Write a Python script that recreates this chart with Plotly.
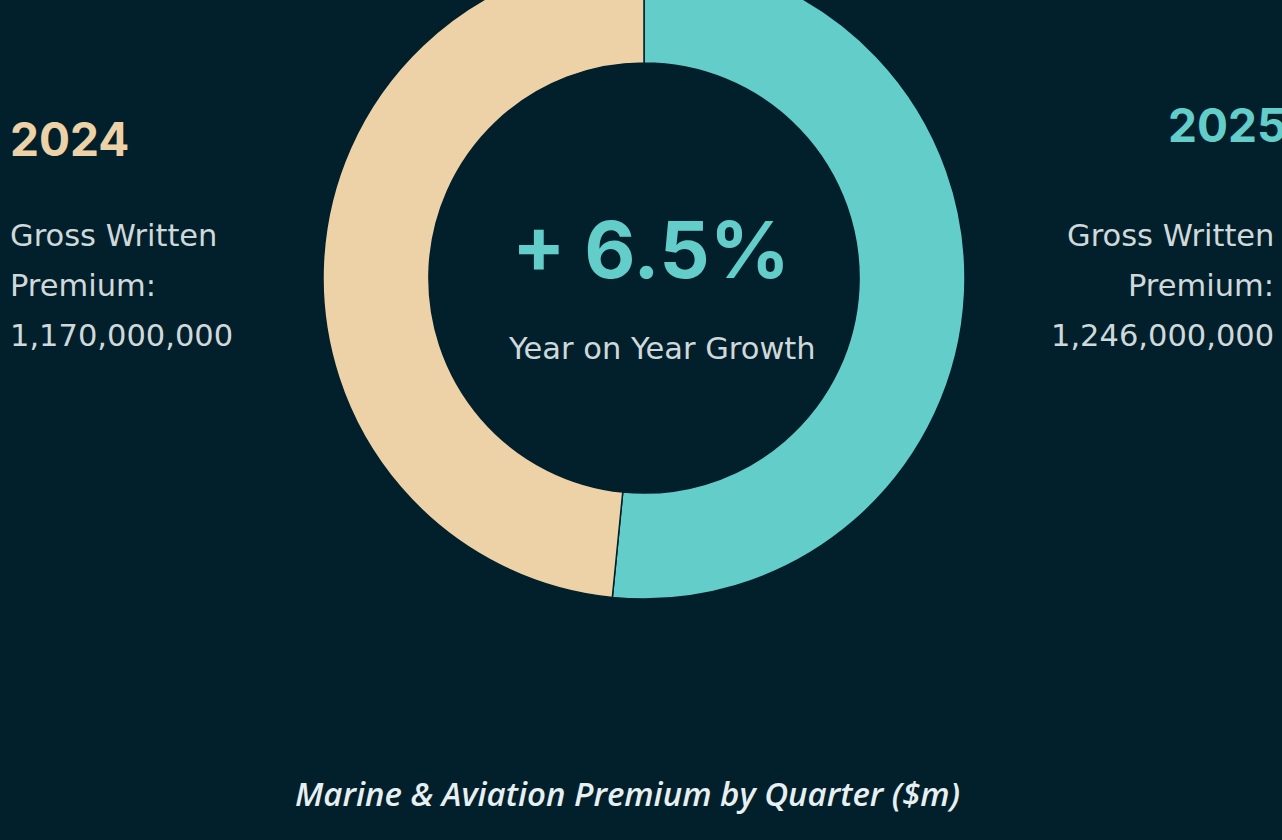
import plotly.graph_objects as go

# ---- data ----
years = ["2024", "2025"]
premium = [1170000000, 1246000000]
growth_text = "+ 6.5%"
growth_label = "Year on Year Growth"
metric_lines = ["Gross Written", "Premium:"]
title_text = "Marine & Aviation Premium by Quarter ($m)"

# ---- style ----
BG = "#02202b"
TEAL = "#63cdca"
BEIGE = "#edd2a8"
TXT = "#cfd9dc"
W, H = 1282, 883
SHIFT = 43  # page is scrolled up by this amount (donut is cut at top)
FONT = "Inter"
BODY = "DejaVu Sans"


def py(y):
    return 1 - (y + SHIFT) / H


def px(x):
    return x / W


cx, cy, r = 644, 278, 321
fig = go.Figure()
fig.add_trace(go.Pie(
    labels=years[::-1],
    values=premium[::-1],
    hole=0.67,
    sort=False,
    direction="clockwise",
    rotation=0,
    marker=dict(colors=[TEAL, BEIGE], line=dict(color=BG, width=1.5)),
    textinfo="none",
    hoverinfo="label+value",
    showlegend=False,
    domain=dict(x=[px(cx - r), px(cx + r)], y=[py(cy + r), py(cy - r)]),
))

ann = []
# left block (2024)
ann.append(dict(text="<b>%s</b>" % years[0], x=px(8), y=py(139), xanchor="left", yanchor="middle",
                font=dict(family=FONT, size=46, color=BEIGE)))
left_lines = metric_lines + ["{:,}".format(premium[0])]
for i, t in enumerate(left_lines):
    ann.append(dict(text=t, x=px(8), y=py(235 + 50 * i), xanchor="left", yanchor="middle",
                    font=dict(family=BODY, size=30.5, color=TXT)))
# right block (2025)
ann.append(dict(text="<b>%s</b>" % years[1], x=px(1288), y=py(125), xanchor="right", yanchor="middle",
                font=dict(family=FONT, size=46, color=TEAL)))
right_lines = metric_lines + ["{:,}".format(premium[1])]
for i, t in enumerate(right_lines):
    ann.append(dict(text=t, x=px(1276), y=py(235 + 50 * i), xanchor="right", yanchor="middle",
                    font=dict(family=BODY, size=30.5, color=TXT)))
# centre
ann.append(dict(text="<b>%s</b>" % growth_text, x=px(651), y=py(249), xanchor="center", yanchor="middle",
                font=dict(family=FONT, size=79, color=TEAL)))
ann.append(dict(text=growth_label, x=px(662), y=py(349), xanchor="center", yanchor="middle",
                font=dict(family=BODY, size=30.5, color=TXT)))
# title
ann.append(dict(text="<i>%s</i>" % title_text, x=px(627), y=py(793), xanchor="center", yanchor="middle",
                font=dict(family="Open Sans", size=33, color="#e6f0f2", weight=600)))

for a in ann:
    a.update(xref="paper", yref="paper", showarrow=False)

fig.update_layout(
    width=W, height=H,
    margin=dict(l=0, r=0, t=0, b=0),
    paper_bgcolor=BG, plot_bgcolor=BG,
    annotations=ann,
)

post = """
document.body.style.margin='0';
document.body.style.background='%s';
document.body.style.overflow='hidden';
var gd=document.getElementById('{plot_id}');
gd.style.marginTop='-%dpx';
""" % (BG, SHIFT)

fig.write_html("out.html", post_script=post)
